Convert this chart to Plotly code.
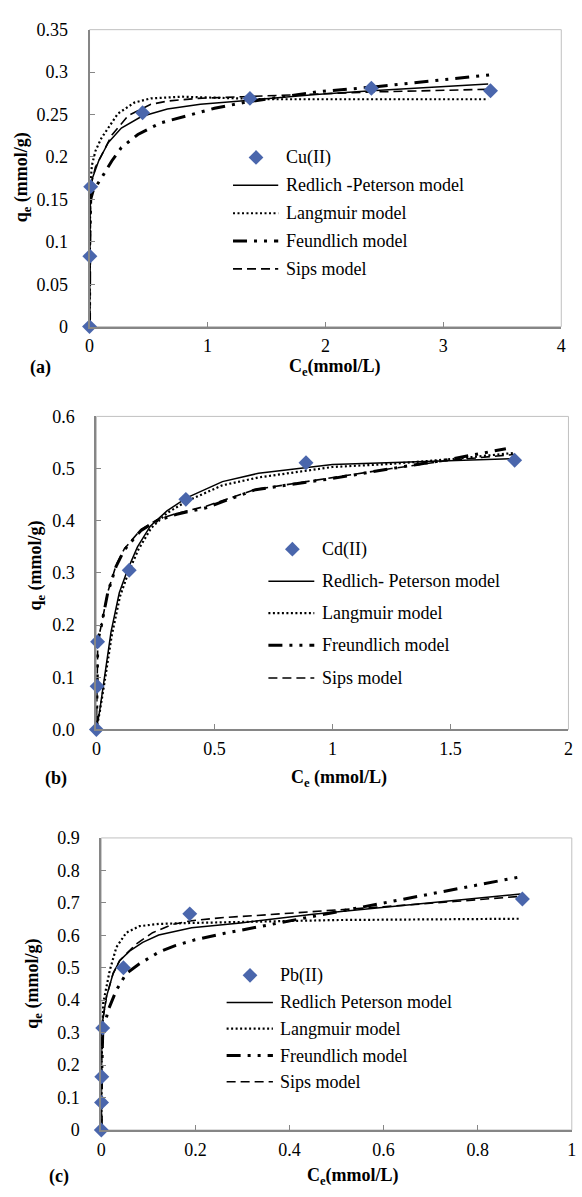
import plotly.graph_objects as go

W, H = 582, 1197
FONT = "Liberation Serif"
DIAMOND = "#4A66AC"
AXIS = "#868686"
BORDER = "#C0C0C0"

# ---------------- Panel (a): Cu(II) ----------------
cu_ce = [0, 0.003, 0.01, 0.45, 1.36, 2.39, 3.40]
cu_qe = [0, 0.083, 0.165, 0.252, 0.269, 0.281, 0.278]

a_rp_x = [0, 0.002, 0.006, 0.022, 0.078, 0.16, 0.27, 0.44, 0.66, 0.94, 1.34, 1.92, 2.39, 3.38]
a_rp_y = [0, 0.10, 0.155, 0.174, 0.1955, 0.217, 0.234, 0.2476, 0.2565, 0.262, 0.267, 0.2735, 0.278, 0.286]
a_lang_x = [0, 0.002, 0.006, 0.02, 0.05, 0.1, 0.24, 0.38, 0.52, 0.78, 1.06, 1.5, 2.4, 3.38]
a_lang_y = [0, 0.12, 0.165, 0.19, 0.207, 0.222, 0.251, 0.264, 0.269, 0.271, 0.270, 0.268, 0.268, 0.268]
a_fr_x = [0, 0.002, 0.01, 0.03, 0.105, 0.19, 0.27, 0.41, 0.6, 0.8, 1.06, 1.34, 1.92, 2.4, 3.39]
a_fr_y = [0, 0.10, 0.15, 0.16, 0.176, 0.1955, 0.211, 0.2264, 0.240, 0.2476, 0.2573, 0.265, 0.2766, 0.2824, 0.2967]
a_sips_x = [0, 0.003, 0.01, 0.05, 0.19, 0.33, 0.52, 0.67, 0.92, 1.3, 1.9, 2.4, 3.38]
a_sips_y = [0, 0.12, 0.165, 0.188, 0.226, 0.249, 0.262, 0.266, 0.269, 0.271, 0.274, 0.2766, 0.2797]

# ---------------- Panel (b): Cd(II) ----------------
cd_ce = [0, 0.003, 0.005, 0.139, 0.379, 0.888, 1.772]
cd_qe = [0, 0.083, 0.168, 0.305, 0.441, 0.511, 0.516]

b_rp_x = [0, 0.014, 0.034, 0.062, 0.097, 0.132, 0.174, 0.229, 0.299, 0.382, 0.534, 0.687, 1.0, 1.25, 1.5, 1.77]
b_rp_y = [0, 0.036, 0.099, 0.187, 0.262, 0.306, 0.35, 0.39, 0.419, 0.444, 0.475, 0.491, 0.508, 0.5116, 0.515, 0.519]
b_lang_x = [0, 0.015, 0.036, 0.065, 0.1, 0.135, 0.178, 0.232, 0.3, 0.385, 0.534, 0.687, 1.0, 1.25, 1.5, 1.77]
b_lang_y = [0, 0.036, 0.095, 0.18, 0.255, 0.300, 0.345, 0.386, 0.415, 0.438, 0.468, 0.483, 0.503, 0.509, 0.518, 0.530]
b_fr_x = [0, 0.002, 0.006, 0.021, 0.048, 0.083, 0.118, 0.188, 0.257, 0.34, 0.465, 0.674, 1.0, 1.25, 1.5, 1.735]
b_fr_y = [0, 0.10, 0.17, 0.199, 0.262, 0.312, 0.344, 0.381, 0.40, 0.4125, 0.425, 0.4595, 0.481, 0.50, 0.518, 0.538]
b_sips_x = [0, 0.002, 0.006, 0.021, 0.048, 0.083, 0.118, 0.188, 0.257, 0.34, 0.465, 0.674, 1.0, 1.25, 1.5, 1.77]
b_sips_y = [0, 0.10, 0.17, 0.20, 0.263, 0.314, 0.346, 0.383, 0.402, 0.414, 0.428, 0.46, 0.483, 0.50, 0.516, 0.527]

# ---------------- Panel (c): Pb(II) ----------------
pb_ce = [0, 0.0005, 0.001, 0.003, 0.047, 0.188, 0.895]
pb_qe = [0, 0.085, 0.164, 0.314, 0.500, 0.666, 0.712]

c_rp_x = [0, 0.0003, 0.001, 0.011, 0.025, 0.039, 0.06, 0.088, 0.122, 0.192, 0.296, 0.45, 0.6, 0.75, 0.891]
c_rp_y = [0, 0.10, 0.32, 0.411, 0.482, 0.522, 0.551, 0.578, 0.601, 0.623, 0.638, 0.665, 0.686, 0.707, 0.727]
c_lang_x = [0, 0.0005, 0.004, 0.018, 0.032, 0.053, 0.081, 0.122, 0.192, 0.331, 0.5, 0.7, 0.887]
c_lang_y = [0, 0.20, 0.391, 0.492, 0.563, 0.608, 0.628, 0.635, 0.638, 0.643, 0.647, 0.649, 0.651]
c_fr_x = [0, 0.0005, 0.003, 0.015, 0.032, 0.053, 0.081, 0.122, 0.157, 0.199, 0.262, 0.331, 0.4, 0.5, 0.6, 0.75, 0.89]
c_fr_y = [0, 0.15, 0.30, 0.371, 0.431, 0.482, 0.512, 0.548, 0.568, 0.586, 0.606, 0.625, 0.645, 0.672, 0.698, 0.74, 0.78]
c_sips_x = [0, 0.0003, 0.001, 0.011, 0.025, 0.039, 0.06, 0.074, 0.109, 0.15, 0.192, 0.262, 0.331, 0.45, 0.6, 0.75, 0.891]
c_sips_y = [0, 0.10, 0.32, 0.411, 0.482, 0.522, 0.553, 0.573, 0.608, 0.633, 0.645, 0.655, 0.661, 0.672, 0.688, 0.704, 0.72]

a_labels = ["Cu(II)", "Redlich -Peterson model", "Langmuir model", "Feundlich model", "Sips model"]
b_labels = ["Cd(II)", "Redlich- Peterson model", "Langmuir model", "Freundlich model", "Sips model"]
c_labels = ["Pb(II)", "Redlich Peterson model", "Langmuir model", "Freundlich model", "Sips model"]

STYLES = [
    dict(color="black", width=1.5, dash="solid"),
    dict(color="black", width=2.2, dash="2px,2.5px"),
    dict(color="black", width=3, dash="14px,7px,3px,7px,3px,7px"),
    dict(color="black", width=1.6, dash="9px,5px"),
]


def PX(x):
    return x / W


def PY(y):
    return 1 - y / H


panels = [
    dict(ax="", pts=(cu_ce, cu_qe),
         curves=[(a_rp_x, a_rp_y), (a_lang_x, a_lang_y), (a_fr_x, a_fr_y), (a_sips_x, a_sips_y)],
         labels=a_labels, xdom=(86, 566), ydom=(20, 322),
         xrange=[0, 4], dx=1, yrange=[0, 0.35], dy=0.05, yfmt="",
         ytitle=(17.5, 170), xtitle=(336, 364, "C<sub>e</sub>(mmol/L)"), tag=(36, 364, "(a)"),
         leg=dict(dx=255.4, dy=150, tx=284, l0=232, l1=278, rows=[178.3, 206.7, 235, 263.3])),
    dict(ax="2", pts=(cd_ce, cd_qe),
         curves=[(b_rp_x, b_rp_y), (b_lang_x, b_lang_y), (b_fr_x, b_fr_y), (b_sips_x, b_sips_y)],
         labels=b_labels, xdom=(93, 573.3), ydom=(413.3, 731.7),
         xrange=[0, 2], dx=0.5, yrange=[0, 0.6], dy=0.1, yfmt=".1f",
         ytitle=(32.5, 565), xtitle=(340, 781.7, "C<sub>e</sub> (mmol/L)"), tag=(52, 781.7, "(b)"),
         leg=dict(dx=292.4, dy=548.3, tx=321, l0=268, l1=314.7, rows=[581, 613.3, 646, 679.3])),
    dict(ax="3", pts=(pb_ce, pb_qe),
         curves=[(c_rp_x, c_rp_y), (c_lang_x, c_lang_y), (c_fr_x, c_fr_y), (c_sips_x, c_sips_y)],
         labels=c_labels, xdom=(98, 576.7), ydom=(842, 1139),
         xrange=[0, 1], dx=0.2, yrange=[0, 0.9], dy=0.1, yfmt="",
         ytitle=(28.7, 990), xtitle=(354, 1186.7, "C<sub>e</sub>(mmol/L)"), tag=(54.7, 1186.7, "(c)"),
         leg=dict(dx=249.3, dy=981.7, tx=278.2, l0=225.5, l1=272.6, rows=[1009.3, 1036, 1063.3, 1090])),
]

fig = go.Figure()
annotations = []
shapes = []
tickfont = dict(family=FONT, size=18, color="black")

for p in panels:
    xa, ya = "x" + p["ax"], "y" + p["ax"]
    for (cx, cy), st, name in zip(p["curves"], STYLES, p["labels"][1:]):
        fig.add_trace(go.Scatter(x=cx, y=cy, mode="lines", line=st, name=name,
                                 xaxis=xa, yaxis=ya, showlegend=False, hoverinfo="skip"))
    fig.add_trace(go.Scatter(x=p["pts"][0], y=p["pts"][1], mode="markers", name=p["labels"][0],
                             marker=dict(symbol="diamond", size=11.5, color=DIAMOND, line=dict(width=0)),
                             xaxis=xa, yaxis=ya, showlegend=False, cliponaxis=False))

    xkey = "xaxis" + p["ax"]
    ykey = "yaxis" + p["ax"]
    fig.layout[xkey] = dict(domain=[PX(p["xdom"][0]), PX(p["xdom"][1])], range=p["xrange"],
                            dtick=p["dx"], tick0=0, anchor=ya, showgrid=False, zeroline=False,
                            showline=True, linecolor=AXIS, linewidth=2, ticks="inside",
                            ticklen=5, tickcolor=AXIS, tickwidth=1, tickfont=tickfont,
                            ticklabelstandoff=2, fixedrange=True)
    fig.layout[ykey] = dict(domain=[PY(p["ydom"][1]), PY(p["ydom"][0])], range=p["yrange"],
                            dtick=p["dy"], tick0=0, anchor=xa, showgrid=False, zeroline=False,
                            showline=True, linecolor=AXIS, linewidth=2, ticks="inside",
                            ticklen=5, tickcolor=AXIS, tickwidth=1, tickfont=tickfont,
                            tickformat=p["yfmt"], ticklabelstandoff=16, fixedrange=True)

    # plot area frame
    shapes.append(dict(type="rect", xref=xa + " domain", yref=ya + " domain", x0=0, x1=1, y0=0, y1=1,
                       line=dict(color=BORDER, width=1), layer="below"))

    # axis titles and panel tag
    annotations.append(dict(x=PX(p["ytitle"][0]), y=PY(p["ytitle"][1]), xref="paper", yref="paper",
                            text="<b>q<sub>e</sub> (mmol/g)</b>", textangle=-90, showarrow=False,
                            xanchor="center", yanchor="middle",
                            font=dict(family=FONT, size=18, color="black")))
    annotations.append(dict(x=PX(p["xtitle"][0]), y=PY(p["xtitle"][1]), xref="paper", yref="paper",
                            text="<b>" + p["xtitle"][2] + "</b>", showarrow=False,
                            xanchor="center", yanchor="middle",
                            font=dict(family=FONT, size=18, color="black")))
    annotations.append(dict(x=PX(p["tag"][0]), y=PY(p["tag"][1]), xref="paper", yref="paper",
                            text="<b>" + p["tag"][2] + "</b>", showarrow=False,
                            xanchor="center", yanchor="middle",
                            font=dict(family=FONT, size=18, color="black")))

    # manual legend
    lg = p["leg"]
    r = 7.5
    cxp, cyp = lg["dx"], lg["dy"]
    path = "M {:.5f},{:.5f} L {:.5f},{:.5f} L {:.5f},{:.5f} L {:.5f},{:.5f} Z".format(
        PX(cxp - r), PY(cyp), PX(cxp), PY(cyp - r), PX(cxp + r), PY(cyp), PX(cxp), PY(cyp + r))
    shapes.append(dict(type="path", path=path, xref="paper", yref="paper",
                       fillcolor=DIAMOND, line=dict(width=0)))
    annotations.append(dict(x=PX(lg["tx"]), y=PY(cyp), xref="paper", yref="paper",
                            text=p["labels"][0], showarrow=False, xanchor="left", yanchor="middle",
                            font=dict(family=FONT, size=18, color="black")))
    for rowy, st, name in zip(lg["rows"], STYLES, p["labels"][1:]):
        shapes.append(dict(type="line", xref="paper", yref="paper",
                           x0=PX(lg["l0"]), x1=PX(lg["l1"]), y0=PY(rowy), y1=PY(rowy),
                           line=st))
        annotations.append(dict(x=PX(lg["tx"]), y=PY(rowy), xref="paper", yref="paper",
                                text=name, showarrow=False, xanchor="left", yanchor="middle",
                                font=dict(family=FONT, size=18, color="black")))

fig.update_layout(width=W, height=H, margin=dict(l=0, r=0, t=0, b=0),
                  paper_bgcolor="white", plot_bgcolor="white", showlegend=False,
                  annotations=annotations, shapes=shapes,
                  font=dict(family=FONT, size=18, color="black"))

fig.write_html("out.html", config={"displayModeBar": False})
